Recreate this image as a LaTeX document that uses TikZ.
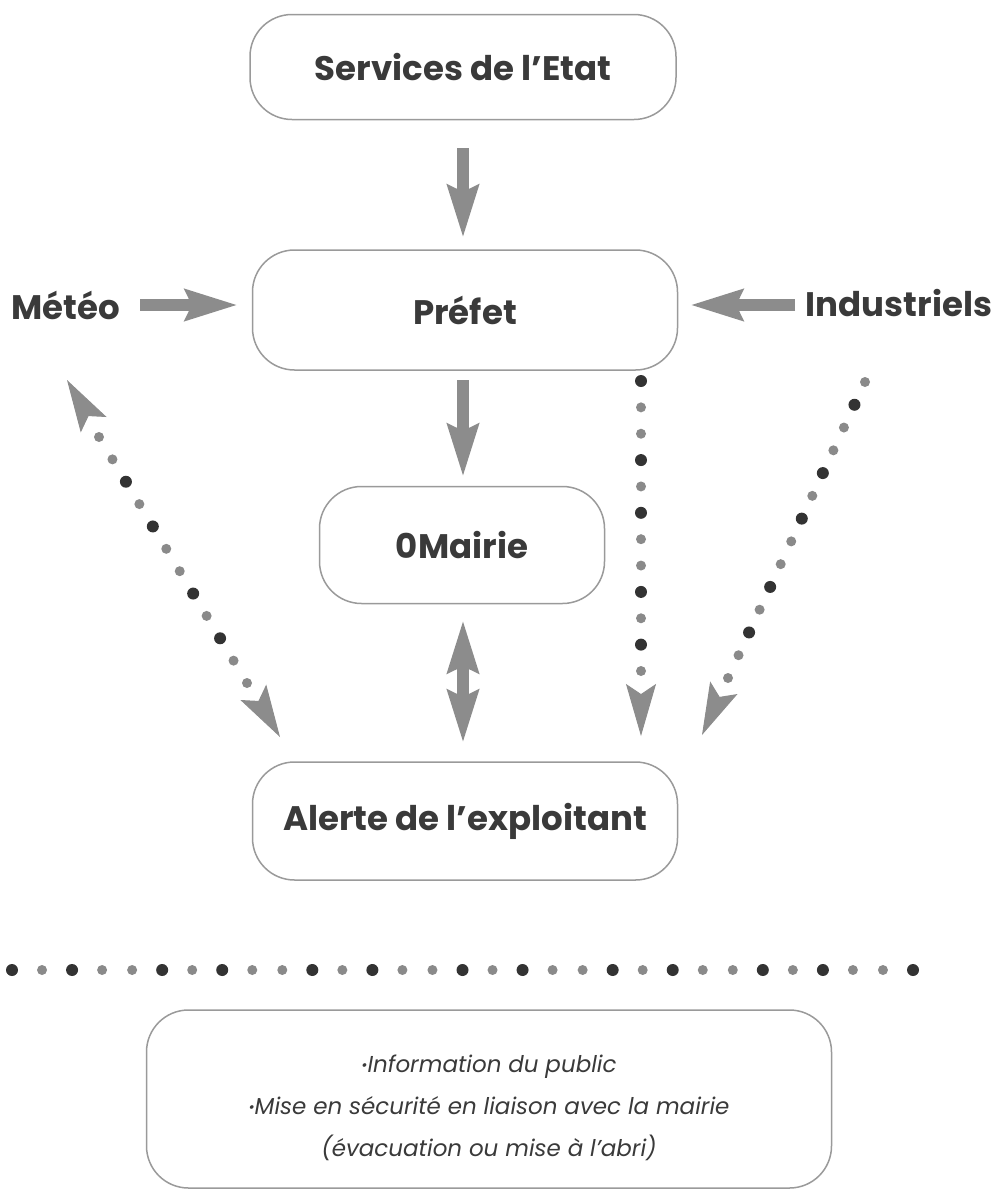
\documentclass[tikz,border=0pt]{standalone}
\usepackage{fontspec}
\setmainfont{Poppins}
\usetikzlibrary{arrows.meta,calc}
\definecolor{arrowgray}{HTML}{8C8C8C}
\definecolor{boxline}{HTML}{9A9A9A}
\definecolor{txt}{HTML}{3A3A3A}
\definecolor{dotdark}{HTML}{333333}
\definecolor{dotlight}{HTML}{8A8A8A}
\tikzset{
  box/.style={draw=boxline, line width=1.5pt, rounded corners=42pt, fill=white,
    text=txt, font=\bfseries\fontsize{34}{40}\selectfont, align=center, inner sep=0pt},
  sidelabel/.style={text=txt, font=\bfseries\fontsize{34}{40}\selectfont, inner sep=2pt},
  infotext/.style={text=txt, font=\itshape\fontsize{23}{42}\selectfont, align=center, yshift=-9pt},
  blockarrow/.style={draw=arrowgray, line width=12pt, -{Stealth[width=30pt,length=52pt,inset=6pt]}},
  dblarrow/.style={draw=arrowgray, line width=12pt, {Stealth[width=30pt,length=52pt,inset=6pt]}-{Stealth[width=30pt,length=52pt,inset=6pt]}},
  dothead/.style={draw=arrowgray, line width=1pt, -{Stealth[width=30pt,length=52pt,inset=10pt]}},
}
\newcommand\dotrow[4]{%
  \foreach \i in {0,...,#3}{%
    \pgfmathtruncatemacro\dk{mod(\i*7+#4,5)}%
    \ifnum\dk<2 \fill[dotdark] ($(#1)!\i/#3!(#2)$) circle (6pt);%
    \else \fill[dotlight] ($(#1)!\i/#3!(#2)$) circle (5pt);\fi
  }}
\newcommand\bul{\raisebox{0.2ex}{\fontsize{15}{15}\selectfont\textbullet}}
\begin{document}
\begin{tikzpicture}[x=1pt,y=-1pt]
\useasboundingbox (0,0) rectangle (992,1189);
% boxes
\node[box, minimum width=426pt, minimum height=105pt] (svc) at (463,67) {Services de l'Etat};
\node[box, minimum width=425pt, minimum height=120pt] (pref) at (465,310) {Préfet};
\node[box, minimum width=285pt, minimum height=117pt] (mairie) at (462,545) {0Mairie};
\node[box, minimum width=425pt, minimum height=118pt] (alerte) at (465,821) {Alerte de l'exploitant};
\node[box, minimum width=685pt, minimum height=178pt,
  label={[infotext]center:\bul Information du public\\ \bul Mise en sécurité en liaison avec la mairie\\ (évacuation ou mise à l'abri)}]
  (info) at (489,1099) {};
% side labels
\node[sidelabel] (meteo) at (66,305) {Météo};
\node[sidelabel] (indus) at (899,303) {Industriels};
% block arrows
\draw[blockarrow] (463,148) coordinate (a1) -- (463,238) coordinate (a2);
\draw[blockarrow] (140,305) coordinate (b1) -- (238,305) coordinate (b2);
\draw[blockarrow] (795,305) coordinate (c1) -- (690,305) coordinate (c2);
\draw[blockarrow] (463,380) coordinate (d1) -- (463,477) coordinate (d2);
\draw[dblarrow] (463,620) coordinate (e1) -- (463,743) coordinate (e2);
% dotted connectors
\coordinate (L1) at (67,380);
\coordinate (L2) at (280,737);
\coordinate (Ld1) at (99,437);
\coordinate (Ld2) at (247,683);
\dotrow{Ld1}{Ld2}{11}{2}
\draw[dothead] ($(L1)!3pt!(L2)$) -- (L1);
\draw[dothead] ($(L2)!3pt!(L1)$) -- (L2);
\coordinate (M1) at (641,381);
\coordinate (Md2) at (641,671);
\coordinate (M2) at (641,736);
\dotrow{M1}{Md2}{11}{0}
\draw[dothead] ($(M2)!3pt!(M1)$) -- (M2);
\coordinate (R1) at (865,382);
\coordinate (Rd2) at (728,678);
\coordinate (R2) at (702,735);
\dotrow{R1}{Rd2}{13}{3}
\draw[dothead] ($(R2)!3pt!(R1)$) -- (R2);
% separator
\coordinate (S1) at (12,970);
\coordinate (S2) at (913,970);
\dotrow{S1}{S2}{30}{1}
\end{tikzpicture}
\end{document}
